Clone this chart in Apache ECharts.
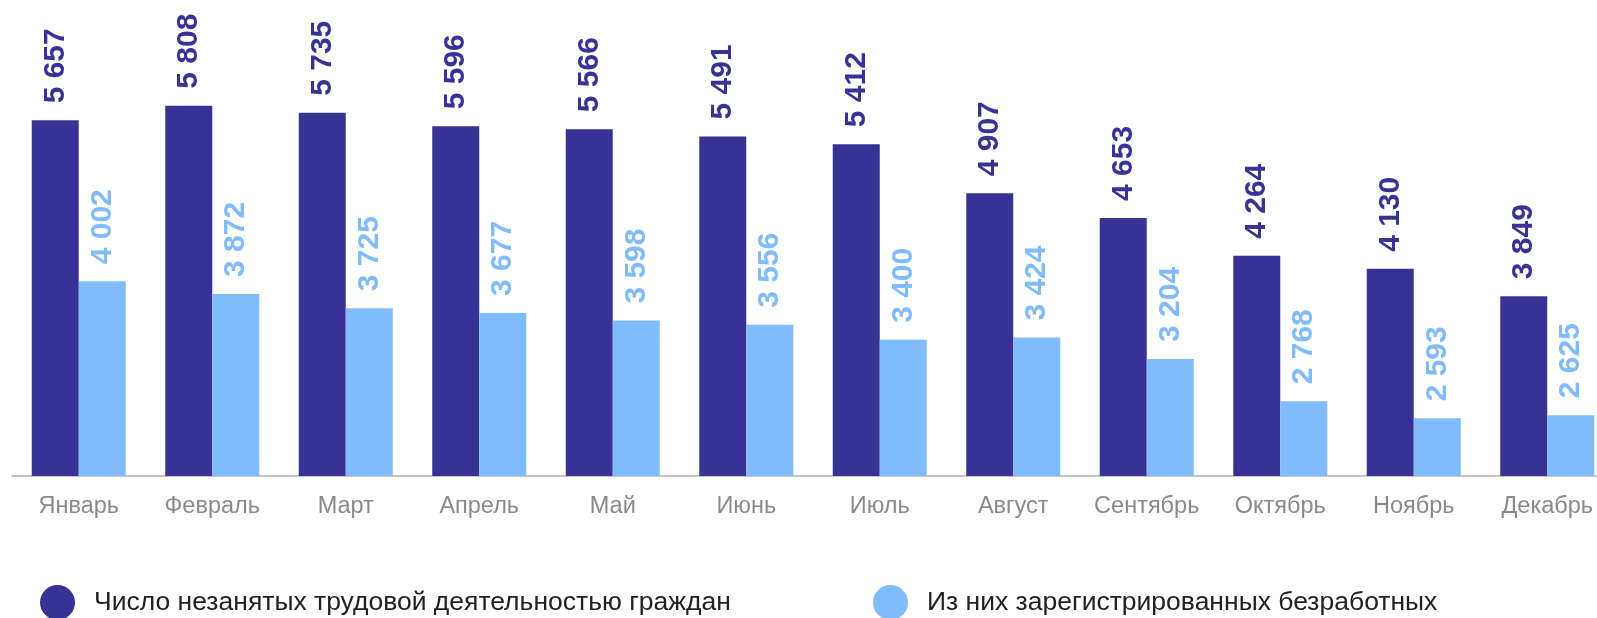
<!DOCTYPE html>
<html>
	<head>
		<meta charset="utf-8">
		<title>ECharts</title>
		<script src="https://cdn.jsdelivr.net/npm/echarts@6/dist/echarts.min.js"></script>
		<style>
			html, body { margin: 0; padding: 0; background: #fff; }
		</style>
	</head>
	<body>
		<div id="main" style="width: 1597px;height:618px;"></div>
		<script type="text/javascript">
			var months = ['Январь', 'Февраль', 'Март', 'Апрель', 'Май', 'Июнь', 'Июль', 'Август', 'Сентябрь', 'Октябрь', 'Ноябрь', 'Декабрь'];
			var unemployed = [5657, 5808, 5735, 5596, 5566, 5491, 5412, 4907, 4653, 4264, 4130, 3849];
			var registered = [4002, 3872, 3725, 3677, 3598, 3556, 3400, 3424, 3204, 2768, 2593, 2625];
			var names = ['Число незанятых трудовой деятельностью граждан', 'Из них зарегистрированных безработных'];
			var colors = ['#383297', '#80BBFB'];

			function fmt(p) {
				return String(p.value).replace(/\B(?=(\d{3})+(?!\d))/g, ' ');
			}

			var myChart = echarts.init(document.getElementById('main'));
			var labelStyle = function(c) {
				return {
					show: true,
					position: 'top',
					rotate: 90,
					align: 'left',
					verticalAlign: 'middle',
					distance: 17,
					color: c,
					fontFamily: 'Liberation Sans, Arial',
					fontWeight: 'bold',
					fontSize: 30,
					formatter: fmt
				};
			};
			var legendText = {
				color: '#222',
				fontFamily: 'Liberation Sans, Arial',
				fontSize: 26.5,
				padding: [0, 0, 0, 14]
			};
			var option = {
				animation: false,
				grid: { left: 12, top: 87, width: 1602, bottom: 142, outerBoundsMode: 'none', containLabel: false },
				legend: [
					{ data: [names[0]], left: 35, top: 580, itemWidth: 35, itemHeight: 35, icon: 'circle', textStyle: legendText },
					{ data: [names[1]], left: 868, top: 580, itemWidth: 35, itemHeight: 35, icon: 'circle', textStyle: legendText }
				],
				xAxis: {
					type: 'category',
					data: months,
					axisTick: { show: false },
					axisLine: { lineStyle: { color: '#c4c4c4', width: 2 } },
					axisLabel: { interval: 0, color: '#8a8a8a', fontSize: 23.5, fontFamily: 'Liberation Sans, Arial', margin: 19 }
				},
				yAxis: {
					type: 'value',
					min: 2000,
					max: 6000,
					show: false,
					splitLine: { show: false }
				},
				series: [
					{
						name: names[0],
						type: 'bar',
						data: unemployed,
						barWidth: 47,
						barGap: '0%',
						itemStyle: { color: colors[0] },
						label: labelStyle(colors[0])
					},
					{
						name: names[1],
						type: 'bar',
						data: registered,
						barWidth: 47,
						barGap: '0%',
						itemStyle: { color: colors[1] },
						label: labelStyle(colors[1])
					}
				]
			};
			myChart.setOption(option);
		</script>
	</body>
</html>
